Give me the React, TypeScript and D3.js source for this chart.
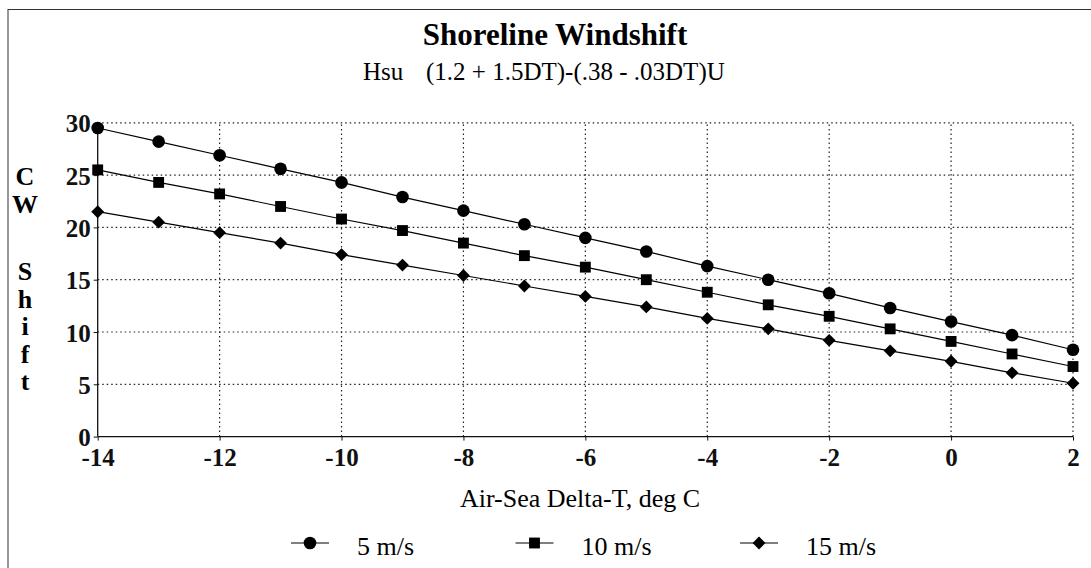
import { useRef, useEffect } from 'react';
import * as d3 from 'd3';

const deltaT = [-14, -13, -12, -11, -10, -9, -8, -7, -6, -5, -4, -3, -2, -1, 0, 1, 2];

const wind5 = [29.5, 28.2, 26.9, 25.6, 24.3, 22.9, 21.6, 20.3, 19.0, 17.7, 16.3, 15.0, 13.7, 12.3, 11.0, 9.7, 8.3];
const wind10 = [25.5, 24.3, 23.2, 22.0, 20.8, 19.7, 18.5, 17.3, 16.2, 15.0, 13.8, 12.6, 11.5, 10.3, 9.1, 7.9, 6.7];
const wind15 = [21.5, 20.5, 19.5, 18.5, 17.4, 16.4, 15.4, 14.4, 13.4, 12.4, 11.3, 10.3, 9.2, 8.2, 7.2, 6.1, 5.1];

const seriesNames = ['5 m/s', '10 m/s', '15 m/s'];
const seriesShapes = ['circle', 'square', 'diamond'];

const xTicks = [-14, -12, -10, -8, -6, -4, -2, 0, 2];
const yTicks = [0, 5, 10, 15, 20, 25, 30];

const W = 1091;
const H = 568;
const FONT = '"Liberation Serif", "Times New Roman", serif';

function symbolFor(shape: string) {
  if (shape === 'circle') return d3.symbol(d3.symbolCircle, 125);
  if (shape === 'square') return d3.symbol(d3.symbolSquare, 118);
  return d3.symbol(d3.symbolDiamond2, 105);
}

export default function App() {
  const svgRef = useRef<SVGSVGElement>(null);

  useEffect(() => {
    const svg = d3.select(svgRef.current);
    svg.selectAll('*').remove();

    const x = d3.scaleLinear().domain([-14, 2]).range([97.7, 1073]);
    const y = d3.scaleLinear().domain([0, 30]).range([436.6, 122.8]);

    // Outer frame (right / bottom edges fall outside the picture)
    svg
      .append('rect')
      .attr('x', 8)
      .attr('y', 9.5)
      .attr('width', 1120)
      .attr('height', 620)
      .attr('fill', 'none')
      .attr('stroke', '#333')
      .attr('stroke-width', 1);

    // Titles
    svg
      .append('text')
      .attr('x', 555)
      .attr('y', 45)
      .attr('text-anchor', 'middle')
      .attr('font-family', FONT)
      .attr('font-weight', 'bold')
      .attr('font-size', 31)
      .text('Shoreline Windshift');

    svg
      .append('text')
      .attr('x', 363)
      .attr('y', 80)
      .attr('font-family', FONT)
      .attr('font-size', 25)
      .text('Hsu');
    svg
      .append('text')
      .attr('x', 426)
      .attr('y', 80)
      .attr('font-family', FONT)
      .attr('font-size', 25)
      .text('(1.2 + 1.5DT)-(.38 - .03DT)U');

    // Grid (dotted)
    const grid = svg.append('g').attr('stroke', '#222').attr('stroke-width', 1.2).attr('stroke-dasharray', '1.5,3');
    yTicks.filter((t) => t > 0).forEach((t) => {
      grid.append('line').attr('x1', x(-14)).attr('x2', x(2)).attr('y1', y(t)).attr('y2', y(t));
    });
    xTicks.filter((t) => t > -14).forEach((t) => {
      grid.append('line').attr('x1', x(t)).attr('x2', x(t)).attr('y1', y(0)).attr('y2', y(30));
    });

    // Axes
    const yAxis = svg
      .append('g')
      .attr('transform', `translate(${x(-14)},0)`)
      .call(d3.axisLeft(y).tickValues(yTicks).tickSize(4).tickPadding(3).tickFormat((d) => String(d)));
    const xAxis = svg
      .append('g')
      .attr('transform', `translate(0,${y(0)})`)
      .call(d3.axisBottom(x).tickValues(xTicks).tickSize(4).tickPadding(8).tickFormat((d) => String(d)));
    [xAxis, yAxis].forEach((ax) => {
      ax.attr('font-family', FONT);
      ax.select('.domain').attr('stroke', '#111').attr('stroke-width', 1.3);
      ax.selectAll('.tick line').attr('stroke', '#111');
      ax.selectAll('.tick text')
        .attr('font-family', FONT)
        .attr('font-size', 25)
        .attr('font-weight', 'bold')
        .attr('fill', '#111');
    });
    xAxis.select('.domain').attr('d', `M${x(-14)},0H${x(2)}`);
    yAxis.select('.domain').attr('d', `M0,${y(0)}V${y(30)}`);
    yAxis.selectAll('.tick text').attr('dy', '0.36em');

    // Axis titles
    svg
      .append('text')
      .attr('x', 580)
      .attr('y', 507)
      .attr('text-anchor', 'middle')
      .attr('font-family', FONT)
      .attr('font-size', 26)
      .text('Air-Sea Delta-T, deg C');

    const yTitle = svg
      .append('g')
      .attr('font-family', FONT)
      .attr('font-size', 26)
      .attr('font-weight', 'bold')
      .attr('text-anchor', 'middle');
    ['CW', 'Shift'].forEach((word, wi) => {
      word.split('').forEach((ch, ci) => {
        yTitle
          .append('text')
          .attr('x', 25)
          .attr('y', (wi === 0 ? 176 : 271) + ci * 27.5)
          .attr('dy', '0.35em')
          .text(ch);
      });
    });

    // Series
    const allSeries = [wind5, wind10, wind15];
    const line = d3
      .line<number>()
      .x((_, i) => x(deltaT[i]))
      .y((d) => y(d));

    allSeries.forEach((vals, si) => {
      svg
        .append('path')
        .datum(vals)
        .attr('d', line)
        .attr('fill', 'none')
        .attr('stroke', '#000')
        .attr('stroke-width', 1.2);
      svg
        .append('g')
        .selectAll('path')
        .data(vals)
        .join('path')
        .attr('transform', (d, i) => `translate(${x(deltaT[i])},${y(d)})`)
        .attr('d', symbolFor(seriesShapes[si])())
        .attr('fill', '#000');
    });

    // Legend
    const legend = svg.append('g').attr('transform', 'translate(310,543)');
    seriesNames.forEach((name, i) => {
      const g = legend.append('g').attr('transform', `translate(${i * 224.5},0)`);
      g.append('line').attr('x1', -19).attr('x2', 19).attr('stroke', '#000').attr('stroke-width', 1.2);
      g.append('path').attr('d', symbolFor(seriesShapes[i])()).attr('fill', '#000');
      g.append('text')
        .attr('x', 47)
        .attr('y', 12)
        .attr('font-family', FONT)
        .attr('font-size', 26)
        .text(name);
    });
  }, []);

  return (
    <div style={{ position: 'absolute', left: 0, top: 0, width: W, height: H, background: '#fff' }}>
      <svg ref={svgRef} width={W} height={H} style={{ display: 'block' }} />
    </div>
  );
}
